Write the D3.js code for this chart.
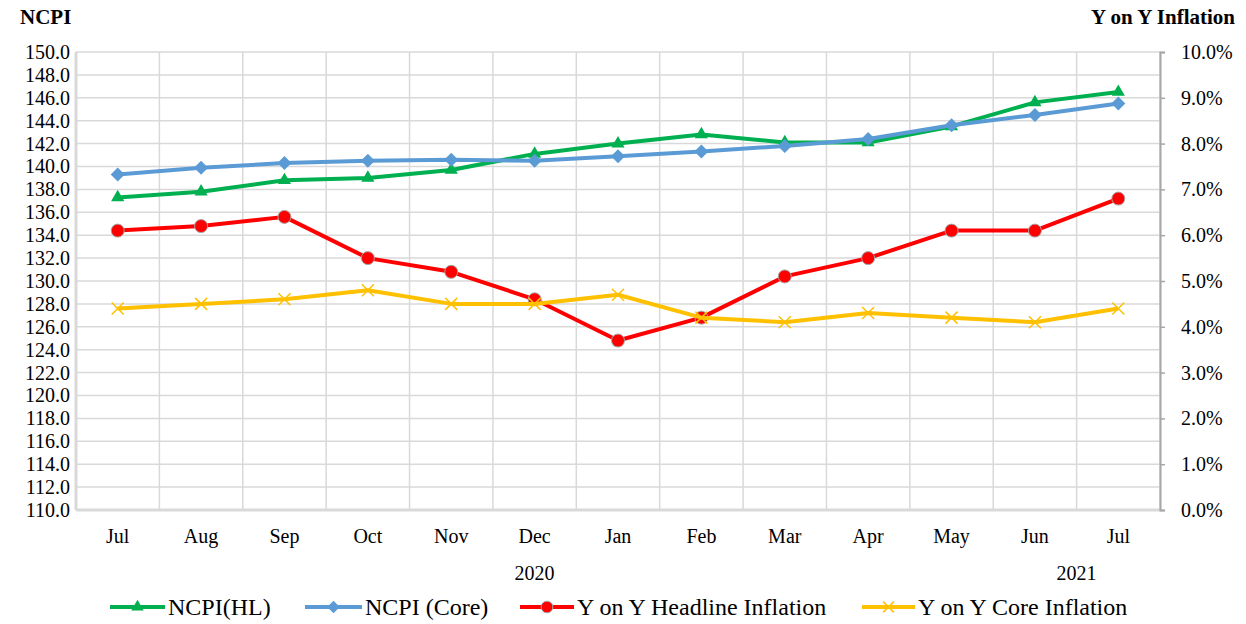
<!DOCTYPE html>
<html>
<head>
<meta charset="utf-8">
<script src="https://cdnjs.cloudflare.com/ajax/libs/d3/7.8.5/d3.min.js"></script>
<style>
  body { margin: 0; background: #fff; }
  svg text { font-family: "Liberation Serif", "DejaVu Serif", "Times New Roman", Times, serif !important; fill: #000; }
</style>
</head>
<body>
<div id="chart"></div>
<script>
// 数据
const months = ["Jul", "Aug", "Sep", "Oct", "Nov", "Dec", "Jan", "Feb", "Mar", "Apr", "May", "Jun", "Jul"]
const ncpiHL = [137.3, 137.8, 138.8, 139.0, 139.7, 141.1, 142.0, 142.8, 142.1, 142.1, 143.5, 145.6, 146.5]
const ncpiCore = [139.3, 139.9, 140.3, 140.5, 140.6, 140.5, 140.9, 141.3, 141.8, 142.4, 143.6, 144.5, 145.5]
const yoyHeadline = [6.1, 6.2, 6.4, 5.5, 5.2, 4.6, 3.7, 4.2, 5.1, 5.5, 6.1, 6.1, 6.8]
const yoyCore = [4.4, 4.5, 4.6, 4.8, 4.5, 4.5, 4.7, 4.2, 4.1, 4.3, 4.2, 4.1, 4.4]
const leftTicks = d3.range(110, 150.1, 2)
const rightTicks = d3.range(0, 10.1, 1)
const yearLabels = [{label: "2020", at: 5}, {label: "2021", at: 11.5}]

const width = 1246, height = 624
const margin = {top: 52, right: 86, bottom: 114, left: 76}

const svg = d3.select("#chart").append("svg")
    .attr("width", width)
    .attr("height", height)

const x = d3.scaleBand()
    .domain(d3.range(months.length))
    .range([margin.left, width - margin.right])
const yL = d3.scaleLinear().domain([110, 150]).range([height - margin.bottom, margin.top])
const yR = d3.scaleLinear().domain([0, 10]).range([height - margin.bottom, margin.top])
const cx = i => x(i) + x.bandwidth() / 2

// 网格线
const grid = svg.append("g").attr("stroke", "#d9d9d9").attr("stroke-width", 1.5)
grid.selectAll(".h").data(leftTicks).enter().append("line")
    .attr("x1", margin.left).attr("x2", width - margin.right)
    .attr("y1", d => yL(d)).attr("y2", d => yL(d))
grid.selectAll(".v").data(d3.range(months.length + 1)).enter().append("line")
    .attr("x1", i => margin.left + i * x.bandwidth()).attr("x2", i => margin.left + i * x.bandwidth())
    .attr("y1", margin.top).attr("y2", height - margin.bottom)

// 坐标轴线
svg.append("line")
    .attr("x1", margin.left).attr("x2", margin.left)
    .attr("y1", margin.top).attr("y2", height - margin.bottom)
    .attr("stroke", "#d9d9d9").attr("stroke-width", 3)
svg.append("line")
    .attr("x1", margin.left).attr("x2", width - margin.right)
    .attr("y1", height - margin.bottom).attr("y2", height - margin.bottom)
    .attr("stroke", "#d9d9d9").attr("stroke-width", 3)

// 左轴
const leftAxis = svg.append("g")
    .attr("transform", `translate(${margin.left},0)`)
    .call(d3.axisLeft(yL).tickValues(leftTicks).tickFormat(d3.format(".1f")).tickSize(0).tickPadding(6))
leftAxis.attr("font-family", null)
leftAxis.select(".domain").remove()
leftAxis.selectAll("text").style("font-size", "20px")

// 右轴
const rightAxis = svg.append("g")
    .attr("transform", `translate(${width - margin.right},0)`)
    .call(d3.axisRight(yR).tickValues(rightTicks).tickFormat(d => d.toFixed(1) + "%").tickSize(5).tickPadding(16))
rightAxis.attr("font-family", null)
rightAxis.select(".domain").attr("stroke", "#a6a6a6").attr("stroke-width", 2)
rightAxis.selectAll("line").attr("stroke", "#a6a6a6").attr("stroke-width", 1.5)
rightAxis.selectAll("text").style("font-size", "20px")

// 月份标签
svg.append("g").selectAll("text").data(months).enter().append("text")
    .attr("x", (d, i) => cx(i)).attr("y", 543)
    .attr("text-anchor", "middle").style("font-size", "20px")
    .text(d => d)
svg.append("g").selectAll("text").data(yearLabels).enter().append("text")
    .attr("x", d => margin.left + (d.at + 0.5) * x.bandwidth()).attr("y", 580)
    .attr("text-anchor", "middle").style("font-size", "20px")
    .text(d => d.label)

// 轴标题
svg.append("text").attr("x", 20).attr("y", 24)
    .style("font-size", "21px").style("font-weight", "bold").text("NCPI")
svg.append("text").attr("x", 1235).attr("y", 24).attr("text-anchor", "end")
    .style("font-size", "21px").style("font-weight", "bold").text("Y on Y Inflation")

// 系列
const series = [
    {name: "NCPI(HL)", values: ncpiHL, y: yL, color: "#00b050", marker: "triangle"},
    {name: "NCPI (Core)", values: ncpiCore, y: yL, color: "#5b9bd5", marker: "diamond"},
    {name: "Y on Y Headline Inflation", values: yoyHeadline, y: yR, color: "#ff0000", marker: "circle"},
    {name: "Y on Y Core Inflation", values: yoyCore, y: yR, color: "#ffc000", marker: "cross"}
]

function drawMarker(g, s, px, py, scale) {
    scale = scale || 1
    if (s.marker === "triangle") {
        g.append("path")
            .attr("d", d3.symbol().type(d3.symbolTriangle).size(75 * scale)())
            .attr("transform", `translate(${px},${py})`)
            .attr("fill", s.color)
    } else if (s.marker === "diamond") {
        const r = 7 * scale
        g.append("path")
            .attr("d", `M0,${-r}L${r},0L0,${r}L${-r},0Z`)
            .attr("transform", `translate(${px},${py})`)
            .attr("fill", s.color)
    } else if (s.marker === "circle") {
        g.append("circle").attr("cx", px).attr("cy", py).attr("r", 6.5 * scale)
            .attr("fill", s.color).attr("stroke", "#a6a6a6").attr("stroke-width", 1)
    } else {
        const r = 6 * scale
        g.append("path")
            .attr("d", `M${-r},${-r}L${r},${r}M${-r},${r}L${r},${-r}`)
            .attr("transform", `translate(${px},${py})`)
            .attr("stroke", s.color).attr("stroke-width", 1.5)
    }
}

series.forEach(s => {
    const line = d3.line().x((d, i) => cx(i)).y(d => s.y(d))
    svg.append("path").datum(s.values)
        .attr("d", line)
        .attr("fill", "none").attr("stroke", s.color).attr("stroke-width", 4)
        .attr("stroke-linejoin", "round")
    const mg = svg.append("g")
    s.values.forEach((v, i) => drawMarker(mg, s, cx(i), s.y(v)))
})

// 图例
const legendItems = [
    {x0: 110, tx: 168},
    {x0: 305, tx: 365},
    {x0: 520, tx: 577},
    {x0: 862, tx: 918}
]
const legend = svg.append("g")
series.forEach((s, i) => {
    const it = legendItems[i]
    const ly = 607
    legend.append("line").attr("x1", it.x0).attr("x2", it.tx - 3)
        .attr("y1", ly).attr("y2", ly)
        .attr("stroke", s.color).attr("stroke-width", 4)
    drawMarker(legend, s, (it.x0 + it.tx - 3) / 2, ly, 0.9)
    legend.append("text").attr("x", it.tx).attr("y", ly + 8)
        .style("font-size", "24px").text(s.name)
})
</script>
</body>
</html>
